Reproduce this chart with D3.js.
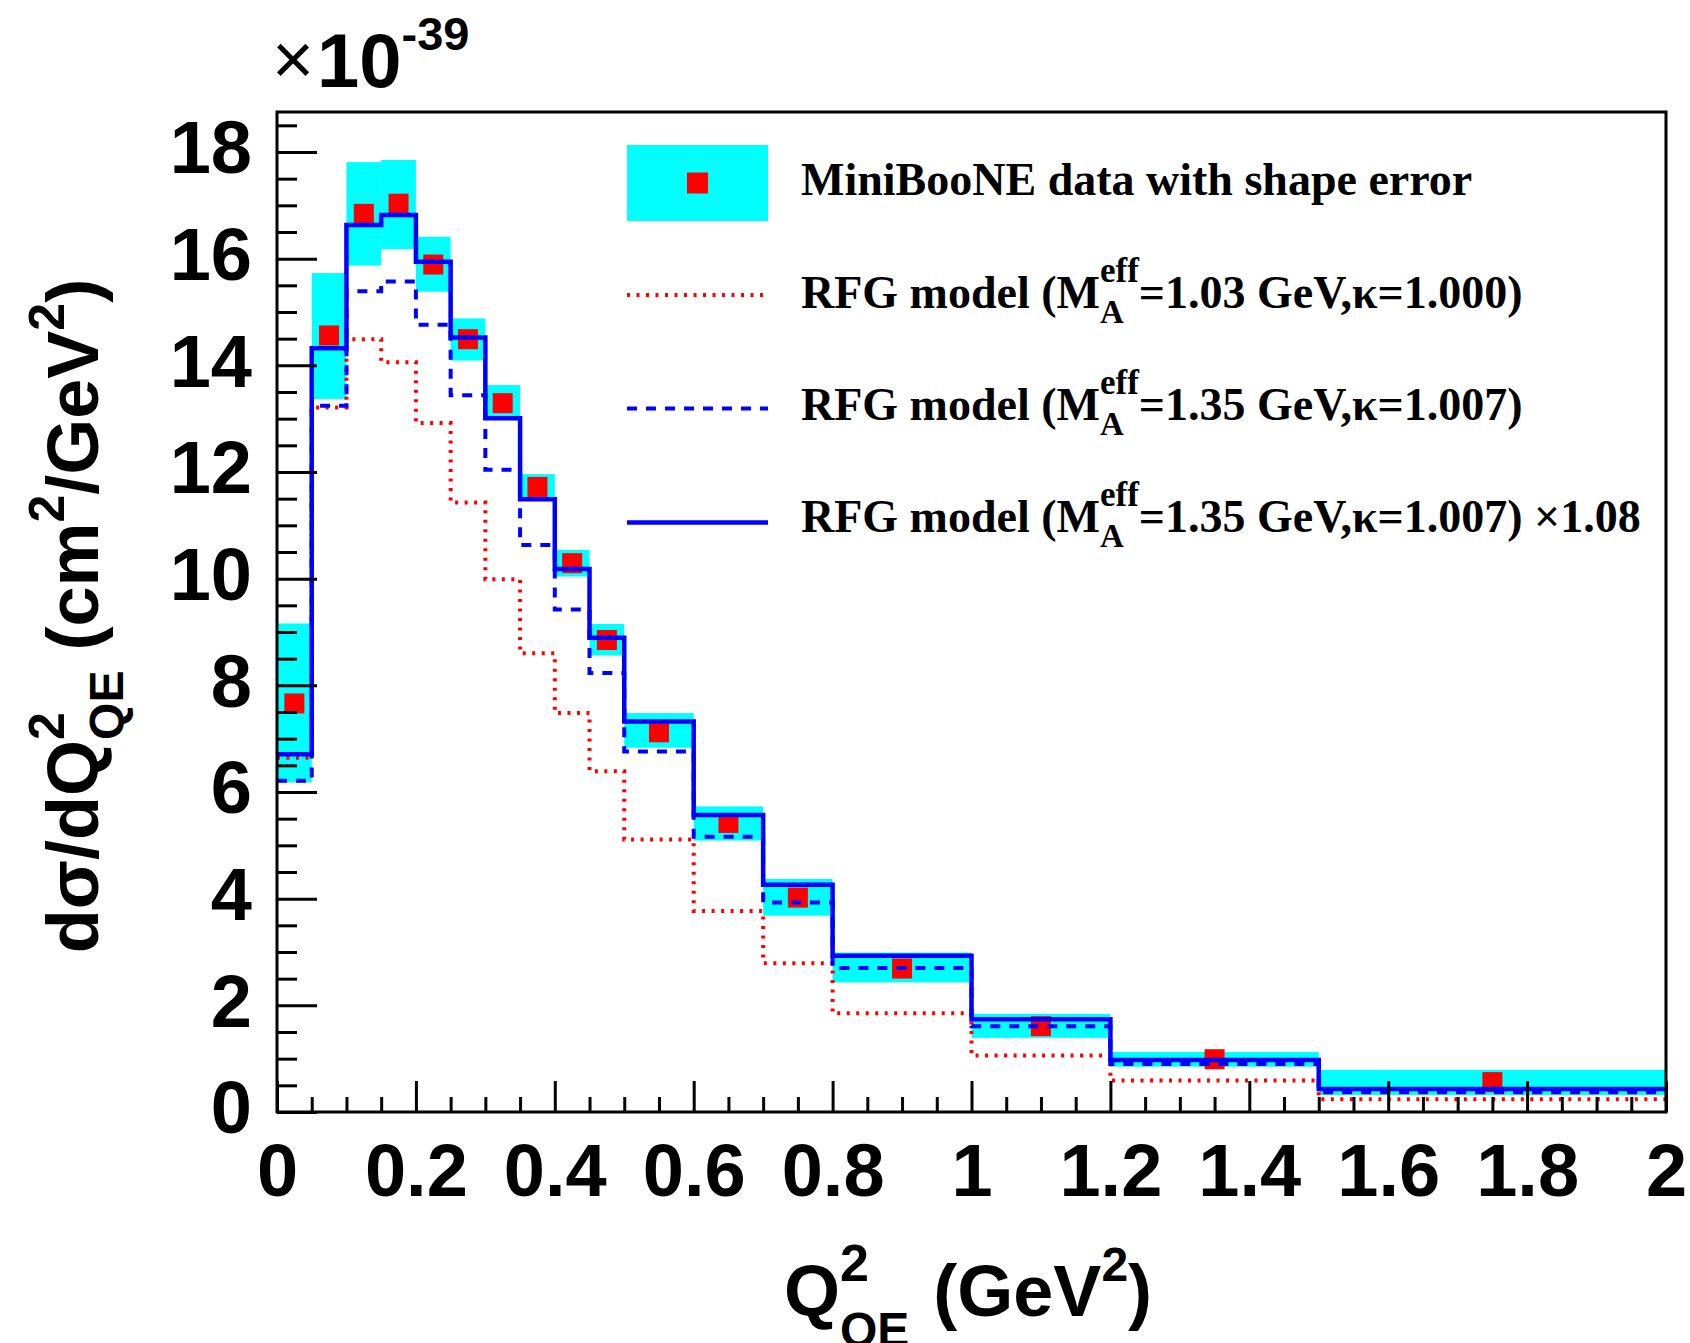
<!DOCTYPE html>
<html><head><meta charset="utf-8">
<script src="https://cdn.jsdelivr.net/npm/d3@7"></script>
<style>html,body{margin:0;padding:0;background:#fff;}svg{display:block;}</style>
</head><body>
<svg id="c" width="1690" height="1343"></svg>
<script>
// ---------------- data ----------------
const binEdges = [0, 0.05, 0.1, 0.15, 0.2, 0.25, 0.3, 0.35, 0.4, 0.45, 0.5, 0.6, 0.7, 0.8, 1.0, 1.2, 1.5, 2.0];
const dataValues = [7.66, 14.56, 16.84, 17.03, 15.89, 14.49, 13.29, 11.72, 10.29, 8.85, 7.12, 5.42, 4.02, 2.69, 1.61, 0.99, 0.56];
const shapeErrLow = [6.18, 13.37, 15.87, 16.18, 15.38, 14.09, 12.98, 11.48, 10.04, 8.56, 6.83, 5.09, 3.68, 2.43, 1.39, 0.85, 0.32];
const shapeErrHigh = [9.16, 15.73, 17.81, 17.85, 16.41, 14.88, 13.63, 11.96, 10.54, 9.15, 7.48, 5.73, 4.37, 2.99, 1.84, 1.125, 0.79];
const rfg103 = [6.64, 13.21, 14.49, 14.06, 12.92, 11.43, 9.99, 8.60, 7.48, 6.39, 5.11, 3.77, 2.79, 1.85, 1.06, 0.59, 0.24];
const rfg135 = [6.21, 13.24, 15.39, 15.57, 14.76, 13.44, 12.04, 10.63, 9.42, 8.23, 6.76, 5.16, 3.93, 2.70, 1.61, 0.90, 0.37];
const rfg135x108 = [6.71, 14.32, 16.63, 16.82, 15.94, 14.52, 13.01, 11.49, 10.18, 8.89, 7.32, 5.57, 4.26, 2.93, 1.74, 0.975, 0.43];
const xMajorTicks = [0, 0.2, 0.4, 0.6, 0.8, 1.0, 1.2, 1.4, 1.6, 1.8, 2.0];
const xTickLabels = ["0", "0.2", "0.4", "0.6", "0.8", "1", "1.2", "1.4", "1.6", "1.8", "2"];
const yMajorTicks = [0, 2, 4, 6, 8, 10, 12, 14, 16, 18];
const yTickLabels = ["0", "2", "4", "6", "8", "10", "12", "14", "16", "18"];
const legendLabels = ["MiniBooNE data with shape error", "RFG model (M", "RFG model (M", "RFG model (M"];

// ---------------- setup ----------------
const svg = d3.select("#c");
const X0 = 277, X1 = 1666, Y0 = 1112, Y1 = 112;
const x = d3.scaleLinear().domain([0, 2]).range([X0, X1]);
const y = d3.scaleLinear().domain([0, 18.75]).range([Y0, Y1]);
const SANS = "'Liberation Sans', Arial, Helvetica, sans-serif";
const SERIF = "'Liberation Serif', 'Times New Roman', serif";
const CYAN = "#00FFFF", RED = "#FF0000", BLUE = "#0000FF";

const bins = dataValues.map((v, i) => ({lo: binEdges[i], hi: binEdges[i + 1], v, el: shapeErrLow[i], eh: shapeErrHigh[i]}));

// shape error boxes
svg.append("g").selectAll("rect").data(bins).join("rect")
  .attr("x", d => x(d.lo)).attr("width", d => x(d.hi) - x(d.lo))
  .attr("y", d => y(d.eh)).attr("height", d => y(d.el) - y(d.eh))
  .attr("fill", CYAN);

// data markers
const MS = 20;
svg.append("g").selectAll("rect").data(bins).join("rect")
  .attr("x", d => x((d.lo + d.hi) / 2) - MS / 2).attr("y", d => y(d.v) - MS / 2)
  .attr("width", MS).attr("height", MS).attr("fill", RED);

// histogram step lines
function stepPts(vals) {
  const pts = vals.map((v, i) => [binEdges[i], v]);
  pts.push([binEdges[binEdges.length - 1], vals[vals.length - 1]]);
  return pts;
}
const stepLine = d3.line().x(d => x(d[0])).y(d => y(d[1])).curve(d3.curveStepAfter);
svg.append("path").attr("d", stepLine(stepPts(rfg103))).attr("fill", "none")
  .attr("stroke", RED).attr("stroke-width", 4).attr("stroke-dasharray", "3,6.5");
svg.append("path").attr("d", stepLine(stepPts(rfg135))).attr("fill", "none")
  .attr("stroke", BLUE).attr("stroke-width", 4).attr("stroke-dasharray", "10,9");
svg.append("path").attr("d", stepLine(stepPts(rfg135x108))).attr("fill", "none")
  .attr("stroke", BLUE).attr("stroke-width", 4.5);

// ---------------- axes ----------------
function styleAxis(g) {
  g.select(".domain").remove();
  g.selectAll(".tick line").attr("stroke", "#000").attr("stroke-width", 3);
}
const xMinor = d3.range(0, 41).map(i => i * 0.05).filter(v => !xMajorTicks.some(t => Math.abs(t - v) < 1e-6));
const yMinor = d3.range(0, 38).map(i => i * 0.5).filter(v => !yMajorTicks.some(t => Math.abs(t - v) < 1e-6));

svg.append("g").attr("transform", `translate(0,${Y0})`)
  .call(d3.axisBottom(x).tickValues(xMinor).tickSize(-15).tickFormat(""))
  .call(styleAxis);
svg.append("g").attr("transform", `translate(0,${Y0})`)
  .call(d3.axisBottom(x).tickValues(xMajorTicks).tickSize(-31).tickPadding(31)
    .tickFormat((d, i) => xTickLabels[i]))
  .call(styleAxis)
  .call(g => g.selectAll("text").attr("fill", "#000").style("font-family", SANS)
    .style("font-weight", "bold").style("font-size", "74px"));
svg.append("g").attr("transform", `translate(${X0},0)`)
  .call(d3.axisLeft(y).tickValues(yMinor).tickSize(-20).tickFormat(""))
  .call(styleAxis);
svg.append("g").attr("transform", `translate(${X0},0)`)
  .call(d3.axisLeft(y).tickValues(yMajorTicks).tickSize(-40).tickPadding(25)
    .tickFormat((d, i) => yTickLabels[i]))
  .call(styleAxis)
  .call(g => g.selectAll("text").attr("fill", "#000").attr("dy", "0.28em").style("font-family", SANS)
    .style("font-weight", "bold").style("font-size", "74px"));

// frame
svg.append("rect").attr("x", X0).attr("y", Y1).attr("width", X1 - X0).attr("height", Y0 - Y1)
  .attr("fill", "none").attr("stroke", "#000").attr("stroke-width", 3);

// ---------------- rich text helper ----------------
function rich(parent, parts, opt) {
  const g = parent.append("g");
  const inner = g.append("g");
  let cx = 0;
  const mk = (p, at) => {
    const t = inner.append("text").attr("x", at).attr("y", p.dy || 0)
      .style("font-family", p.family || opt.family).style("font-weight", p.weight || opt.weight || "bold")
      .style("font-size", (p.size || opt.size) + "px").attr("fill", "#000")
      .attr("xml:space", "preserve").style("white-space", "pre").text(p.t);
    return t.node().getComputedTextLength();
  };
  for (const p of parts) {
    if (p.stack) {
      let w = 0;
      for (const s of p.stack) w = Math.max(w, mk(s, cx));
      cx += w + (p.gap || 0);
    } else {
      cx += mk(p, cx) + (p.gap || 0);
    }
  }
  const off = opt.anchor === "middle" ? -cx / 2 : opt.anchor === "end" ? -cx : 0;
  inner.attr("transform", `translate(${off},0)`);
  g.attr("transform", `translate(${opt.x},${opt.y})` + (opt.rotate ? ` rotate(${opt.rotate})` : ""));
  return cx;
}

// y-axis title
rich(svg, [
  {t: "dσ/dQ"},
  {stack: [{t: "2", size: 50, dy: -34}, {t: "QE", size: 48, dy: 25}]},
  {t: " (cm"},
  {t: "2", size: 50, dy: -34},
  {t: "/GeV"},
  {t: "2", size: 50, dy: -34},
  {t: ")"}
], {x: 98, y: 616, rotate: -90, anchor: "middle", family: SANS, size: 72});

// x-axis title
rich(svg, [
  {t: "Q"},
  {stack: [{t: "2", size: 52, dy: -35}, {t: "QE", size: 48, dy: 30}], gap: 4},
  {t: " (GeV"},
  {t: "2", size: 48, dy: -35},
  {t: ")"}
], {x: 968, y: 1316, anchor: "middle", family: SANS, size: 72});

// exponent label
svg.append("text").attr("x", 272).attr("y", 84).style("font-family", SANS).style("font-size", "72px")
  .style("font-weight", "normal").text("×");
rich(svg, [
  {t: "10"},
  {t: "-39", size: 47, dy: -37}
], {x: 317, y: 87, anchor: "start", family: SANS, size: 76});

// ---------------- legend ----------------
const LX0 = 627, LX1 = 768;
svg.append("rect").attr("x", LX0).attr("y", 145).attr("width", LX1 - LX0).attr("height", 76).attr("fill", CYAN);
svg.append("rect").attr("x", (LX0 + LX1) / 2 - 10.5).attr("y", 183 - 10.5).attr("width", 21).attr("height", 21).attr("fill", RED);
const legLines = [
  {y: 295, stroke: RED, w: 4, dash: "3,6.5"},
  {y: 408.5, stroke: BLUE, w: 4, dash: "10,9"},
  {y: 522.5, stroke: BLUE, w: 4.5, dash: null}
];
legLines.forEach(l => {
  svg.append("line").attr("x1", LX0).attr("x2", LX1).attr("y1", l.y).attr("y2", l.y)
    .attr("stroke", l.stroke).attr("stroke-width", l.w).attr("stroke-dasharray", l.dash);
});
const LTX = 801;
rich(svg, [{t: legendLabels[0]}], {x: LTX, y: 195, family: SERIF, size: 46});
const tails = ["=1.03 GeV,κ=1.000)", "=1.35 GeV,κ=1.007)", "=1.35 GeV,κ=1.007) ×1.08"];
const baseY = [308, 420, 532];
tails.forEach((tail, i) => {
  rich(svg, [
    {t: legendLabels[i + 1]},
    {stack: [{t: "eff", size: 35, dy: -26}, {t: "A", size: 33, dy: 15}]},
    {t: tail}
  ], {x: LTX, y: baseY[i], family: SERIF, size: 46});
});
</script>
</body></html>
